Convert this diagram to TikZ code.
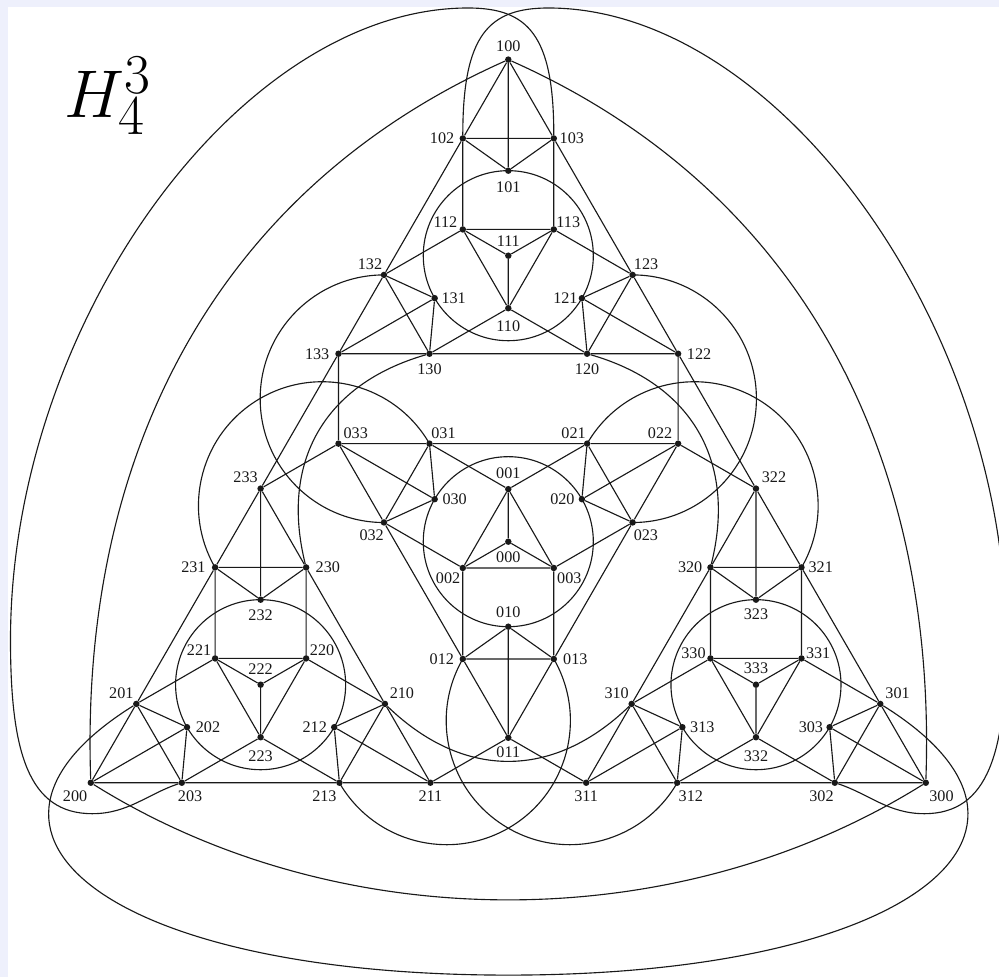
\documentclass[tikz,border=0pt]{standalone}
\usepackage{fontspec}
\setmainfont{Liberation Serif}
\usetikzlibrary{backgrounds}
\definecolor{lav}{RGB}{238,240,252}
\definecolor{ink}{RGB}{25,25,25}
\newcommand\V[5]{\node[vtx] (#1) at (#2,#3) {}; \node[lbl] (l#1) at ([shift={(#4,#5)}]#1.center) {#1};}
\begin{document}
\begin{tikzpicture}[x=0.025cm,y=0.025cm,
  vtx/.style={circle,fill=ink,inner sep=0pt,minimum size=4.6pt},
  lbl/.style={inner sep=0pt,font=\fontsize{11.5}{12}\selectfont,text=ink},
  edge/.style={draw=ink,line width=0.8pt}]
\useasboundingbox (-508.3,-435.3) rectangle (490.7,541.7);
% ---- vertices: block 0
\V{000}{0}{0}{0}{-16}
\V{001}{0}{52.54}{0}{16}
\V{002}{-45.5}{-26.27}{-14.7}{-10}
\V{003}{45.5}{-26.27}{15.5}{-10}
\V{010}{0}{-85}{0}{14}
\V{011}{0}{-196.08}{0}{-14.3}
\V{012}{-45.5}{-117.27}{-21}{0}
\V{013}{45.5}{-117.27}{21.5}{0}
\V{020}{73.61}{42.5}{-19.5}{0}
\V{021}{78.81}{98.04}{-13.5}{10.7}
\V{022}{169.81}{98.04}{-18}{10.7}
\V{023}{124.31}{19.23}{13.3}{-12.3}
\V{030}{-73.61}{42.5}{20}{0}
\V{031}{-78.81}{98.04}{14}{10.7}
\V{032}{-124.31}{19.23}{-12.3}{-12.3}
\V{033}{-169.81}{98.04}{17.3}{10.7}
% block 1
\V{100}{0}{482.08}{0}{13.3}
\V{101}{0}{371}{0}{-17}
\V{102}{-45.5}{403.27}{-20.7}{0}
\V{103}{45.5}{403.27}{18}{0}
\V{110}{0}{233.46}{0}{-17.7}
\V{111}{0}{286}{0}{15}
\V{112}{-45.5}{312.27}{-17.3}{7.3}
\V{113}{45.5}{312.27}{14.5}{7.3}
\V{120}{78.81}{187.96}{0}{-15.7}
\V{121}{73.61}{243.5}{-16.5}{0}
\V{122}{169.81}{187.96}{21}{0}
\V{123}{124.31}{266.77}{13.5}{11}
\V{130}{-78.81}{187.96}{0}{-15.7}
\V{131}{-73.61}{243.5}{19}{0}
\V{132}{-124.31}{266.77}{-14}{11}
\V{133}{-169.81}{187.96}{-21.3}{0}
% block 2
\V{200}{-417.49}{-241.04}{-15.7}{-13}
\V{201}{-371.99}{-162.23}{-15}{11}
\V{202}{-321.30}{-185.5}{21}{0}
\V{203}{-326.49}{-241.04}{8.3}{-13}
\V{210}{-123.37}{-162.23}{17}{11}
\V{211}{-77.87}{-241.04}{0}{-13}
\V{212}{-174.07}{-185.5}{-19.5}{0}
\V{213}{-168.87}{-241.04}{-15}{-13}
\V{220}{-202.18}{-116.73}{16}{8.3}
\V{221}{-293.18}{-116.73}{-16}{8.3}
\V{222}{-247.68}{-143.0}{0}{15.7}
\V{223}{-247.68}{-195.54}{0}{-19.3}
\V{230}{-202.18}{-25.73}{21.7}{0}
\V{231}{-293.18}{-25.73}{-21.7}{0}
\V{232}{-247.68}{-58.0}{0}{-15.7}
\V{233}{-247.68}{53.08}{-15}{11}
% block 3
\V{300}{417.49}{-241.04}{15.7}{-13}
\V{301}{371.99}{-162.23}{17.3}{10.3}
\V{302}{326.49}{-241.04}{-13.3}{-13}
\V{303}{321.30}{-185.5}{-18.7}{0}
\V{310}{123.37}{-162.23}{-15}{10.3}
\V{311}{77.87}{-241.04}{0}{-13}
\V{312}{168.87}{-241.04}{13.7}{-13}
\V{313}{174.07}{-185.5}{20}{0}
\V{320}{202.18}{-25.73}{-20.3}{0}
\V{321}{293.18}{-25.73}{19.3}{0}
\V{322}{247.68}{53.08}{18}{11}
\V{323}{247.68}{-58.0}{0}{-15}
\V{330}{202.18}{-116.73}{-17}{5.7}
\V{331}{293.18}{-116.73}{16.7}{5.7}
\V{332}{247.68}{-195.54}{0}{-19.3}
\V{333}{247.68}{-143.0}{0}{16.3}
% title
\node[anchor=base west,inner sep=0pt,text=black,scale=1.93,transform shape] (title) at (-444.8,423.7) {\fontsize{24.88}{28}\selectfont$H_4^3$};
% helper points for the outer curves
\coordinate (bo1) at (-90:10.8325cm);
\coordinate (t1) at (-40.3,533.7);
\coordinate (t2) at (-497.8,-98.3);
\coordinate (t3) at (-416,-272);
\coordinate (u1) at (40.3,533.7);
\coordinate (u2) at (497.8,-98.3);
\coordinate (u3) at (416,-272);
\begin{scope}[on background layer]
\fill[lav] (-508.3,-435.3) rectangle (490.7,541.7);
\fill[white] (-500.3,-435.3) rectangle (490.7,534.7);
\begin{scope}[edge]
% K4 blocks
\foreach \b in {00,01,02,03,10,11,12,13,20,21,22,23,30,31,32,33}
  {\draw (\b0)--(\b1) (\b0)--(\b2) (\b0)--(\b3) (\b1)--(\b2) (\b1)--(\b3) (\b2)--(\b3);}
% level-2 straight edges
\draw (002)--(012) (003)--(013) (001)--(031) (001)--(021) (002)--(032) (003)--(023) (012)--(032) (013)--(023) (021)--(031);
\draw (112)--(102) (113)--(103) (110)--(130) (110)--(120) (112)--(132) (113)--(123) (102)--(132) (103)--(123) (120)--(130);
\draw (223)--(203) (221)--(201) (220)--(210) (220)--(230) (223)--(213) (221)--(231) (203)--(213) (201)--(231) (230)--(210);
\draw (332)--(302) (331)--(301) (330)--(310) (330)--(320) (332)--(312) (331)--(321) (302)--(312) (301)--(321) (320)--(310);
% level-2 circles
\draw (000.center) circle[radius=2.125cm];
\draw (111.center) circle[radius=2.125cm];
\draw (222.center) circle[radius=2.125cm];
\draw (333.center) circle[radius=2.125cm];
% level-3 straight edges
\draw (022)--(122) (033)--(133) (033)--(233) (011)--(211) (022)--(322) (011)--(311) (133)--(233) (122)--(322) (211)--(311);
% level-3 semicircles
\draw (132.center) arc[start angle=90,end angle=270,radius=3.0943cm];
\draw (123.center) arc[start angle=90,end angle=-90,radius=3.0943cm];
\draw (031.center) arc[start angle=30,end angle=210,radius=3.0943cm];
\draw (013.center) arc[start angle=30,end angle=-150,radius=3.0943cm];
\draw (021.center) arc[start angle=150,end angle=-30,radius=3.0943cm];
\draw (012.center) arc[start angle=150,end angle=330,radius=3.0943cm];
% level-3 arcs
\draw (210) to[out=-44,in=-136,distance=2.64cm] (310);
\draw (130) to[out=-164,in=104,distance=2.64cm] (230);
\draw (320) to[out=76,in=-16,distance=2.64cm] (120);
% big inner curves
\draw (200) to[out=-32,in=-148,distance=7.25cm] (300);
\draw (100) to[out=-156,in=92,distance=8cm] (200);
\draw (300) to[out=88,in=-24,distance=8cm] (100);
% big outer curves
\draw (201) to[out=212,in=180,out distance=6cm,in distance=10cm] (bo1)
            to[out=0,in=-32,out distance=10cm,in distance=6cm] (301);
\draw (103) to[out=90,in=0,out distance=2.5cm,in distance=1.5cm] (t1)
            to[out=180,in=90,out distance=5.7cm,in distance=7.9cm] (t2)
            to[out=270,in=180,out distance=2.8cm,in distance=1.6cm] (t3)
            to[out=0,in=-162,out distance=0.9cm,in distance=0.8cm] (203);
\draw (102) to[out=90,in=180,out distance=2.5cm,in distance=1.5cm] (u1)
            to[out=0,in=90,out distance=5.7cm,in distance=7.9cm] (u2)
            to[out=270,in=0,out distance=2.8cm,in distance=1.6cm] (u3)
            to[out=180,in=-18,out distance=0.9cm,in distance=0.8cm] (302);
\end{scope}
\end{scope}
\end{tikzpicture}
\end{document}
